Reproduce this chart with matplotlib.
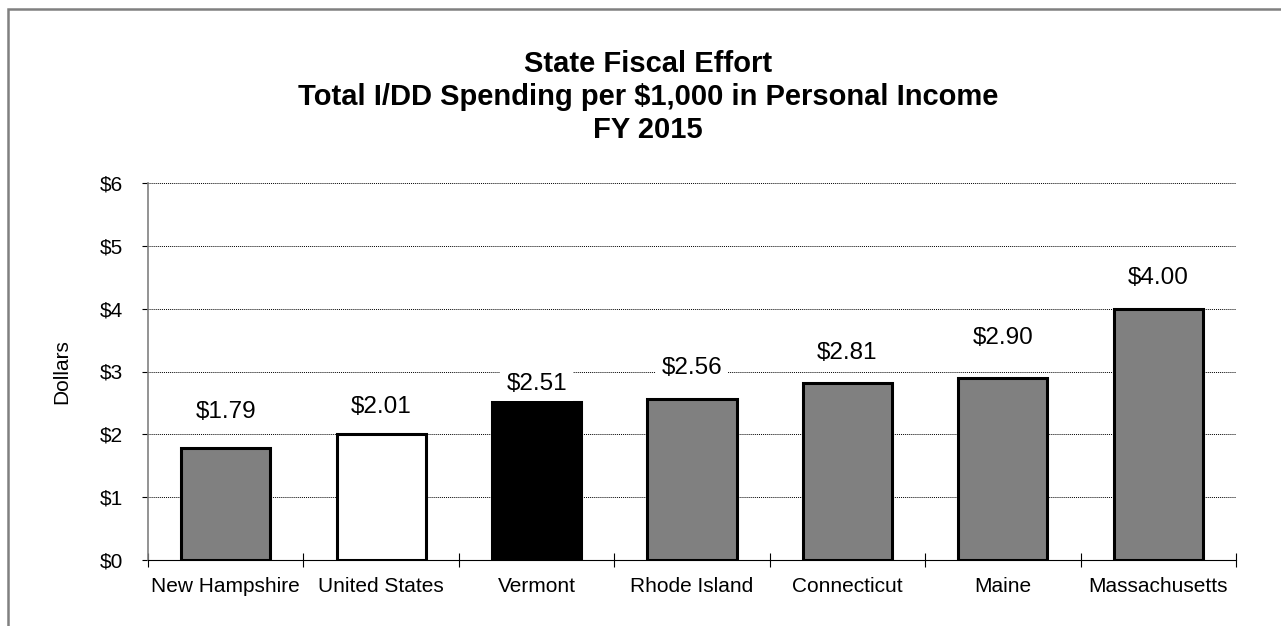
import matplotlib
matplotlib.use("Agg")
import matplotlib.pyplot as plt
from matplotlib.patches import Rectangle
from matplotlib.ticker import FuncFormatter, FixedLocator, NullFormatter

# ---- data ----
categories = ["New Hampshire", "United States", "Vermont", "Rhode Island",
              "Connecticut", "Maine", "Massachusetts"]
values = [1.79, 2.01, 2.51, 2.56, 2.81, 2.90, 4.00]
value_labels = ["$1.79", "$2.01", "$2.51", "$2.56", "$2.81", "$2.90", "$4.00"]
y_ticks = [0, 1, 2, 3, 4, 5, 6]
title_lines = ["State Fiscal Effort",
               "Total I/DD Spending per $1,000 in Personal Income",
               "FY 2015"]
y_label = "Dollars"

# ---- styles ----
bar_colors = ["#808080", "#ffffff", "#000000", "#808080", "#808080", "#808080", "#808080"]
label_offsets_pt = [21, 15, 9, 18, 17.5, 24.5, 18]

plt.rcParams["font.family"] = ["Liberation Sans", "DejaVu Sans"]

W, H = 1281, 626
fig = plt.figure(figsize=(W / 100, H / 100), dpi=100)
fig.patch.set_facecolor("white")

ax = fig.add_axes([148 / W, 1 - 560 / H, (1236 - 148) / W, (560 - 183) / H])

x = list(range(len(categories)))
ax.bar(x, values, width=0.573, color=bar_colors, edgecolor="black",
       linewidth=2.2, zorder=3)

ax.set_xlim(-0.5, len(categories) - 0.5)
ax.set_ylim(y_ticks[0], y_ticks[-1])

# y axis
ax.set_yticks(y_ticks)
ax.yaxis.set_major_formatter(FuncFormatter(lambda v, p: f"${int(v)}"))
ax.tick_params(axis="y", direction="out", length=4.3, width=0.8, color="black",
               labelsize=15, pad=13.5)
ax.yaxis.grid(True, linestyle=(0, (1, 1)), color="black", linewidth=0.7, zorder=0)
ax.set_axisbelow(True)

# x axis
ax.set_xticks(x)
ax.set_xticklabels(categories)
ax.xaxis.set_minor_locator(FixedLocator([i - 0.5 for i in range(len(categories) + 1)]))
ax.xaxis.set_minor_formatter(NullFormatter())
ax.tick_params(axis="x", which="major", length=0, labelsize=15, pad=12)
ax.tick_params(axis="x", which="minor", direction="inout", length=9.4, width=0.8,
               color="black")

for s in ["top", "right"]:
    ax.spines[s].set_visible(False)
ax.spines["left"].set_color("#808080")
ax.spines["left"].set_linewidth(1.2)
ax.spines["bottom"].set_color("black")
ax.spines["bottom"].set_linewidth(0.8)
ax.spines["bottom"].set_zorder(4)

ax.set_ylabel(y_label, fontsize=15, labelpad=20.5)

# value labels
for xi, v, lab, off in zip(x, values, value_labels, label_offsets_pt):
    ax.annotate(lab, xy=(xi, v), xytext=(0, off), textcoords="offset points",
                ha="center", va="baseline", fontsize=17.5, zorder=5,
                bbox=dict(boxstyle="square,pad=0.25", facecolor="white",
                          edgecolor="none"))

# title (three lines)
title_baselines = [72, 105, 138]
for line, yb in zip(title_lines, title_baselines):
    fig.text(648 / W, 1 - yb / H, line, ha="center", va="baseline",
             fontsize=21, fontweight="bold")

# outer border (top and left visible)
fig.patches.append(Rectangle((7.5 / W, -0.1), 1.2, 1.1 - 8.5 / H,
                             transform=fig.transFigure, fill=False,
                             edgecolor="#808080", linewidth=1.8, clip_on=False))

fig.savefig("out.png", dpi=100, facecolor="white")
